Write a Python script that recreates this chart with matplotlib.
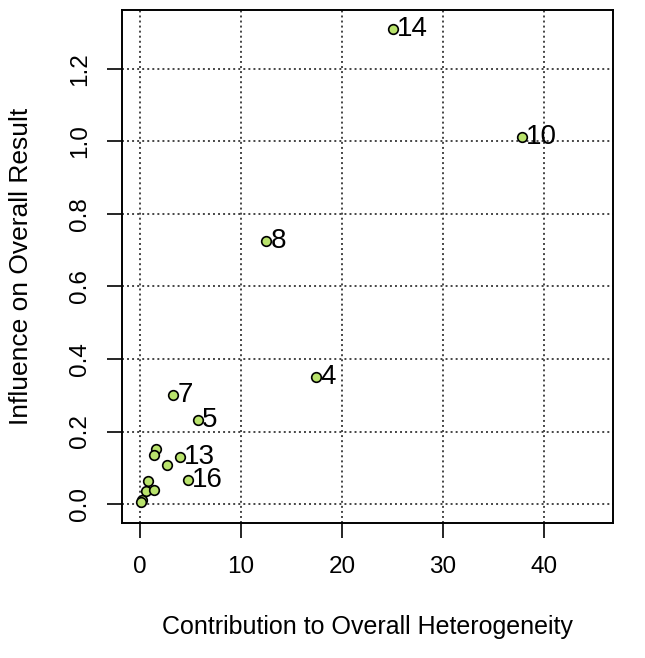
import matplotlib.pyplot as plt

# Baujat-style plot: contribution to heterogeneity vs influence on result
contrib = [25.0, 37.8, 12.5, 17.4, 3.27, 5.74, 3.91, 4.70,
           2.62, 1.55, 1.36, 0.76, 0.54, 1.36, 0.16, 0.08]
influence = [1.31, 1.011, 0.725, 0.349, 0.30, 0.232, 0.129, 0.067,
             0.107, 0.152, 0.135, 0.064, 0.037, 0.040, 0.011, 0.005]
labels = ["14", "10", "8", "4", "7", "5", "13", "16",
          "", "", "", "", "", "", "", ""]

plt.rcParams['font.family'] = ['Liberation Sans', 'DejaVu Sans']

fig = plt.figure(figsize=(6.45, 6.58), dpi=100)
ax = fig.add_axes([0.189, 0.205, 0.761, 0.780])

ax.grid(True, linestyle=(0, (1, 1.6)), color='#444444', linewidth=1.4)
ax.set_axisbelow(True)

ax.scatter(contrib, influence, s=48, facecolor='#b9e36c', edgecolor='black',
           linewidth=1.2, zorder=3)
for x, y, lab in zip(contrib, influence, labels):
    if lab:
        ax.annotate(lab, (x, y), xytext=(3, 0), textcoords='offset points',
                    ha='left', va='center', fontsize=20, zorder=4)

ax.set_xlim(-1.8, 46.8)
ax.set_ylim(-0.0524, 1.3624)
ax.set_xticks([0, 10, 20, 30, 40])
ax.set_yticks([0.0, 0.2, 0.4, 0.6, 0.8, 1.0, 1.2])
ax.set_yticklabels(["0.0", "0.2", "0.4", "0.6", "0.8", "1.0", "1.2"],
                   rotation=90, va='center')
ax.tick_params(length=11, width=1.2, labelsize=17.5, direction='out')
ax.tick_params(axis='x', pad=13)
ax.tick_params(axis='y', pad=11)
for sp in ax.spines.values():
    sp.set_linewidth(1.4)

ax.set_xlabel("Contribution to Overall Heterogeneity", fontsize=18, labelpad=26)
ax.set_ylabel("Influence on Overall Result", fontsize=19, labelpad=26)

fig.savefig("out.png", dpi=100)
